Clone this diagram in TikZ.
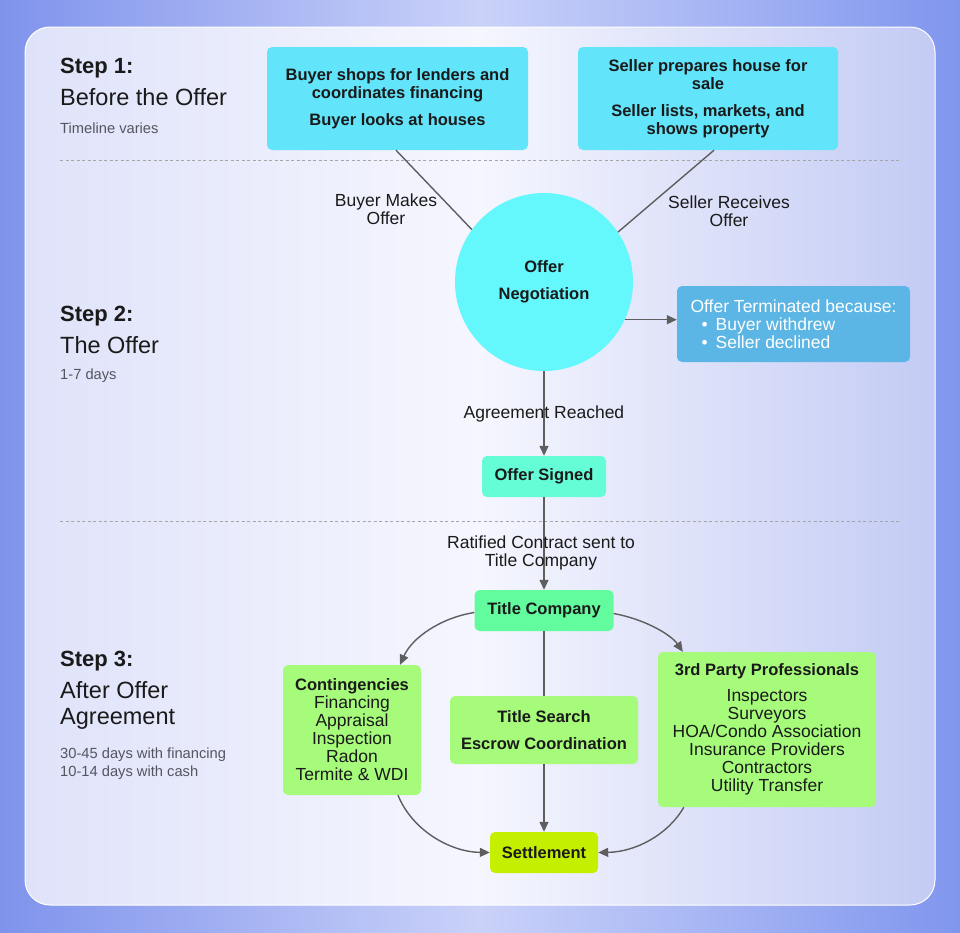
\documentclass[tikz,border=0pt]{standalone}
\usepackage{fontspec}
\setmainfont{Liberation Sans}
\usetikzlibrary{arrows.meta,calc}
\definecolor{bgL}{HTML}{7F93EC}
\definecolor{bgM}{HTML}{CAD2F9}
\definecolor{bgR}{HTML}{8096EE}
\definecolor{pL}{HTML}{DFE3FA}
\definecolor{pM}{HTML}{F5F6FE}
\definecolor{pR}{HTML}{C3CBF4}
\definecolor{cyanbox}{HTML}{62E4FB}
\definecolor{circfill}{HTML}{64F7FC}
\definecolor{termfill}{HTML}{5BB5E5}
\definecolor{signfill}{HTML}{64FDD6}
\definecolor{tcfill}{HTML}{62FB9E}
\definecolor{greenbox}{HTML}{A6FB7B}
\definecolor{settfill}{HTML}{C4F000}
\definecolor{txt}{HTML}{1A1A1A}
\definecolor{subtxt}{HTML}{555560}
\definecolor{linec}{HTML}{5E5E5E}
\tikzset{
  box/.style={rounded corners=5pt, inner sep=0pt, align=center, text=txt, font=\fontsize{17.5}{18}\selectfont},
  bl/.style={font=\fontsize{16.5}{18}\selectfont\bfseries},
  lbl/.style={align=center, text=txt, inner sep=0pt, font=\fontsize{17.5}{18}\selectfont},
  arr/.style={draw=linec, line width=1.4pt, -{Triangle[length=10pt,width=9pt]}},
  plain/.style={draw=linec, line width=1.4pt},
  steptitle/.style={anchor=west, inner sep=0pt, text=txt, font=\fontsize{22}{24}\selectfont\bfseries},
  stepsub/.style={anchor=west, inner sep=0pt, text=txt, font=\fontsize{23.5}{24}\selectfont},
  stepnote/.style={anchor=west, inner sep=0pt, text=subtxt, font=\fontsize{14.7}{18}\selectfont, align=left},
  divider/.style={draw=gray!70, line width=0.8pt, dash pattern=on 3pt off 2.5pt}
}
\begin{document}
\begin{tikzpicture}[x=1pt,y=-1pt]
\useasboundingbox (0,0) rectangle (960,932);
\shade[left color=bgL, right color=bgR, middle color=bgM] (0,0) rectangle (960,932);
\shade[rounded corners=25pt, left color=pL, right color=pR, middle color=pM] (25,27) rectangle (935,905);
\draw[white, line width=1pt, rounded corners=25pt] (25,27) rectangle (935,905);

% step labels
\node[steptitle] (s1a) at (60,68) {Step 1:};
\node[stepsub] (s1b) at (60,97) {Before the Offer};
\node[stepnote] (s1c) at (60,128) {Timeline varies};
\node[steptitle] (s2a) at (60,316) {Step 2:};
\node[stepsub] (s2b) at (60,345) {The Offer};
\node[stepnote] (s2c) at (60,376) {1-7 days};
\node[steptitle] (s3a) at (60,661) {Step 3:};
\node[stepsub] (s3b) at (60,690) {After Offer};
\node[stepsub] (s3c) at (60,719) {Agreement};
\node[stepnote] (s3d) at (60,764) {30-45 days with financing\\10-14 days with cash};

% dividers
\draw[divider] (60,160) -- (900,160);
\draw[divider] (60,521) -- (900,521);

% step 1 boxes
\node[box, bl, fill=cyanbox, minimum width=261pt, minimum height=103pt] (buyer) at (397.5,98.5)
  {Buyer shops for lenders and\\coordinates financing\\[9pt]Buyer looks at houses};
\node[box, bl, fill=cyanbox, minimum width=260pt, minimum height=103pt] (seller) at (708,98.5)
  {Seller prepares house for\\sale\\[9pt]Seller lists, markets, and\\shows property};

% negotiation
\node[circle, fill=circfill, minimum size=178pt, inner sep=0pt, align=center, text=txt, font=\fontsize{16.5}{18}\selectfont\bfseries] (neg) at (544,282) {Offer\\[9pt]Negotiation};
\draw[plain] ($(buyer.south)+(-1.5,0)$) -- (neg.144);
\draw[plain] ($(seller.south)+(6,0)$) -- (neg.34);
\node[lbl] (bmo) at (386,209) {Buyer Makes\\Offer};
\node[lbl] (sro) at (729,211) {Seller Receives\\Offer};

\node[box, fill=termfill, text=white, minimum width=233pt, minimum height=76pt, align=left] (term) at (793.5,324)
  {Offer Terminated because:\\\hspace*{11pt}\textbullet\hspace{8pt}Buyer withdrew\\\hspace*{11pt}\textbullet\hspace{8pt}Seller declined};
\draw[arr] (neg.-25.5) -- (neg.-25.5 -| term.west);

% offer signed
\node[box, bl, fill=signfill, minimum width=124pt, minimum height=41pt] (signed) at (544,476.5) {Offer Signed};
\draw[arr] (neg.south) -- (signed.north);
\node[lbl] (agr) at (544,414) {Agreement Reached};

% title company
\node[box, bl, fill=tcfill, minimum width=139pt, minimum height=41pt] (tc) at (544,610.5) {Title Company};
\draw[arr] (signed.south) -- (tc.north);
\node[lbl] (rat) at (541,552.5) {Ratified Contract sent to\\Title Company};

% step 3 boxes
\node[box, fill=greenbox, minimum width=138pt, minimum height=130pt] (cont) at (352,730)
  {\textbf{\fontsize{16.5}{18}\selectfont Contingencies}\\Financing\\Appraisal\\Inspection\\Radon\\Termite \& WDI};
\node[box, bl, fill=greenbox, minimum width=188pt, minimum height=68pt] (ts) at (544,730)
  {Title Search\\[9pt]Escrow Coordination};
\node[box, fill=greenbox, minimum width=218pt, minimum height=155pt] (tp) at (767,729.5)
  {\textbf{\fontsize{16.5}{18}\selectfont 3rd Party Professionals}\\[8pt]Inspectors\\Surveyors\\HOA/Condo Association\\Insurance Providers\\Contractors\\Utility Transfer};
\node[box, bl, fill=settfill, minimum width=108pt, minimum height=41pt] (sett) at (544,852.5) {Settlement};

\draw[plain] (tc.south) -- (ts.north);
\draw[arr] (ts.south) -- (sett.north);
\draw[arr] ($(tc.west)+(0,2)$) .. controls (440,618) and (412,638) .. ($(cont.north)+(48,0)$);
\draw[arr] ($(tc.east)+(0,3)$) .. controls (648,620) and (672,636) .. ($(tp.north west)+(25,0)$);
\draw[arr] ($(cont.south)+(46,0)$) .. controls (412,830) and (450,852) .. (sett.west);
\draw[arr] ($(tp.south west)+(26,0)$) .. controls (668,835) and (635,852) .. (sett.east);
\end{tikzpicture}
\end{document}
